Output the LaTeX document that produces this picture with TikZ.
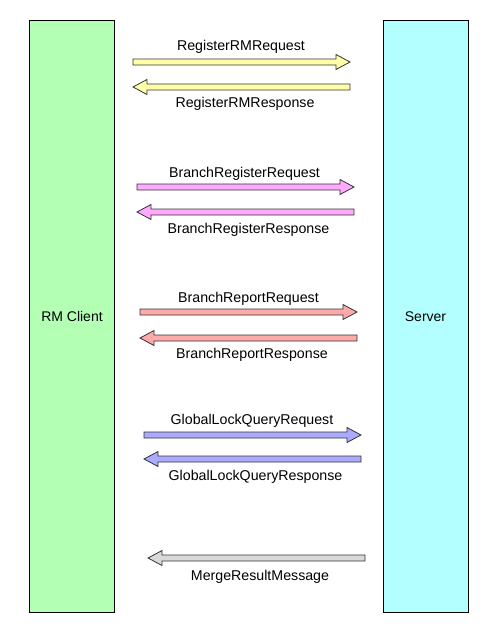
\documentclass[tikz,border=0pt]{standalone}
\usepackage{fontspec}
\setmainfont{Liberation Sans}
\definecolor{clientfill}{HTML}{B3FFB3}
\definecolor{serverfill}{HTML}{B3FFFF}
\definecolor{yellowarr}{HTML}{FFFFAA}
\definecolor{pinkarr}{HTML}{FFAAFF}
\definecolor{redarr}{HTML}{FFAAAA}
\definecolor{bluearr}{HTML}{AAAAFF}
\definecolor{grayarr}{HTML}{D9D9D9}
\definecolor{arrline}{HTML}{333333}
\tikzset{
  party/.style={draw=black, line width=0.9pt, minimum width=85pt, minimum height=591.5pt, inner sep=0pt, font=\fontsize{14}{16}\selectfont},
  msglabel/.style={font=\fontsize{14.2}{16}\selectfont, inner sep=0pt, text=black},
  pics/barrow/.style n args={5}{code={
    \draw[draw=arrline, line width=0.8pt, fill=#4, line join=miter]
      (#1,{#3-3}) -- ({#2-14*#5},{#3-3}) -- ({#2-14*#5},{#3-7.5}) -- (#2,#3)
      -- ({#2-14*#5},{#3+7.5}) -- ({#2-14*#5},{#3+3}) -- (#1,{#3+3}) -- cycle;
  }}
}
\begin{document}
\begin{tikzpicture}[x=1pt,y=-1pt]
\useasboundingbox (0,0) rectangle (492,630);
\node[party, fill=clientfill] (client) at (72,316.25) {RM Client};
\node[party, fill=serverfill] (server) at (425.5,316.25) {Server};
% 1
\pic {barrow={133}{350}{62}{yellowarr}{1}};
\node[msglabel] (l1) at (241,46.5) {RegisterRMRequest};
\pic {barrow={350}{133}{87}{yellowarr}{-1}};
\node[msglabel] (l2) at (245,104) {RegisterRMResponse};
% 2
\pic {barrow={137}{354}{187}{pinkarr}{1}};
\node[msglabel] (l3) at (244.5,173.5) {BranchRegisterRequest};
\pic {barrow={354}{137}{212}{pinkarr}{-1}};
\node[msglabel] (l4) at (248.5,229.5) {BranchRegisterResponse};
% 3
\pic {barrow={140}{357}{312}{redarr}{1}};
\node[msglabel] (l5) at (248.5,298.5) {BranchReportRequest};
\pic {barrow={357}{140}{338}{redarr}{-1}};
\node[msglabel] (l6) at (252,354.5) {BranchReportResponse};
% 4
\pic {barrow={144}{361}{435}{bluearr}{1}};
\node[msglabel] (l7) at (252,420.5) {GlobalLockQueryRequest};
\pic {barrow={361}{144}{459}{bluearr}{-1}};
\node[msglabel] (l8) at (255.5,476.5) {GlobalLockQueryResponse};
% 5
\pic {barrow={365}{148}{558}{grayarr}{-1}};
\node[msglabel] (l9) at (260,576.5) {MergeResultMessage};
\end{tikzpicture}
\end{document}
